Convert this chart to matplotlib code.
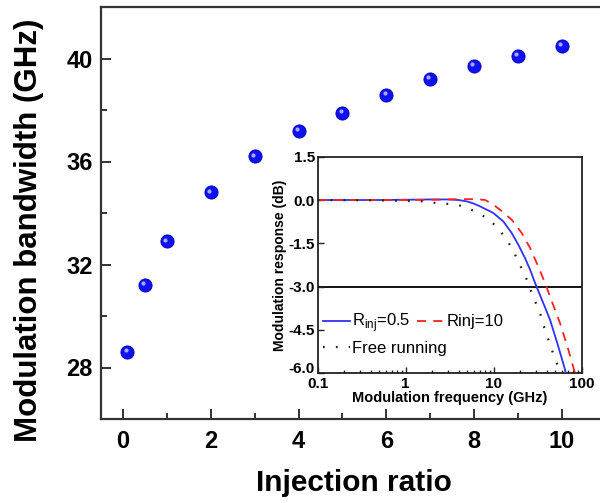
import matplotlib
matplotlib.use("Agg")
import matplotlib.pyplot as plt
import matplotlib.transforms as mtransforms
from matplotlib.ticker import FixedLocator, FixedFormatter, LogLocator, NullFormatter

plt.rcParams['font.family'] = ['Liberation Sans', 'DejaVu Sans']

# Main data
injection_ratio = [0.1, 0.5, 1, 2, 3, 4, 5, 6, 7, 8, 9, 10]
bandwidth_ghz = [28.6, 31.2, 32.9, 34.8, 36.2, 37.2, 37.9, 38.6, 39.2, 39.7, 40.1, 40.5]

# Inset data
f_r05 = [0.1, 0.5, 1.0, 2.0, 3.0, 4.0, 5.0, 5.9, 7.0, 9.9, 12.85, 16.0, 19.05, 22.7, 25.9, 29.5, 43.6, 54.2, 64.6, 66.0]
r_r05 = [0.0, 0.0, 0.01, 0.02, 0.02, 0.0, -0.05, -0.12, -0.22, -0.45, -0.74, -1.14, -1.55, -2.01, -2.41, -2.87, -4.14, -5.07, -5.87, -6.0]

f_r10 = [0.1, 0.5, 1.0, 2.0, 3.0, 4.0, 5.5, 7.0, 8.0, 10.0, 11.8, 16.0, 20.8, 25.9, 30.8, 38.3, 43.6, 56.7, 70.5, 76.9, 84.0]
r_r10 = [0.0, 0.0, 0.0, 0.01, 0.02, 0.03, 0.03, 0.02, 0.0, -0.17, -0.34, -0.68, -1.14, -1.66, -2.18, -2.87, -3.34, -4.26, -5.18, -5.59, -6.0]

f_free = [0.1, 0.5, 0.94, 1.66, 2.15, 2.92, 3.8, 5.14, 6.41, 8.69, 11.3, 14.1, 16.7, 19.05, 21.7, 24.7, 27.0, 30.3, 33.6, 36.6, 40.0, 44.5, 48.9, 54.2, 57.0]
r_free = [0.0, -0.01, -0.03, -0.05, -0.10, -0.13, -0.16, -0.28, -0.43, -0.65, -0.99, -1.37, -1.76, -2.13, -2.49, -2.87, -3.22, -3.59, -3.91, -4.32, -4.66, -5.07, -5.44, -5.78, -6.0]

W, H = 600, 503
fig = plt.figure(figsize=(W / 100, H / 100), dpi=100)

# main axes
x0, x1 = 101, 101 + 11.5 * 43.9
y0, y1 = 7, 419
aw, ah = x1 - x0, y1 - y0
ax = fig.add_axes([x0 / W, 1 - y1 / H, aw / W, ah / H])
ax.set_xlim(-0.5, 11)
ax.set_ylim(26, 42)
for s in ax.spines.values():
    s.set_linewidth(1.6)
    s.set_color('#333333')

ax.plot(injection_ratio, bandwidth_ghz, 'o', ms=9.5, color='#1010f0', mec='#0000c0', mew=0.6, zorder=3)
hl = mtransforms.offset_copy(ax.transData, fig=fig, x=-1.3, y=1.3, units='points')
ax.plot(injection_ratio, bandwidth_ghz, 'o', ms=3.0, color='#a8a8ff', mec='none', transform=hl, zorder=4)

ax.set_xticks([0, 2, 4, 6, 8, 10])
ax.set_xticks([1, 3, 5, 7, 9], minor=True)
ax.set_yticks([28, 32, 36, 40])
ax.set_yticks([30, 34, 38], minor=True)
ax.tick_params(which='both', direction='in', width=1.4, color='#333333')
ax.tick_params(which='major', length=7, labelsize=17)
ax.tick_params(axis='x', which='major', pad=8)
ax.tick_params(axis='y', which='major', pad=6)
ax.tick_params(which='minor', length=4.5)
for lab in ax.get_xticklabels() + ax.get_yticklabels():
    lab.set_fontweight('bold')
ax.set_xlabel('Injection ratio', fontsize=21.5, fontweight='bold')
ax.set_ylabel('Modulation bandwidth (GHz)', fontsize=22.5, fontweight='bold')
ax.xaxis.set_label_coords((354 - x0) / aw, (y1 - 469) / ah)
ax.yaxis.set_label_coords((44 - x0) / aw, (y1 - 230) / ah)

# inset axes
ix0, ix1 = 317.7, 581.7
iy0, iy1 = 156.7, 373.3
iw, ih = ix1 - ix0, iy1 - iy0
ia = fig.add_axes([ix0 / W, 1 - iy1 / H, iw / W, ih / H])
ia.set_facecolor('white')
ia.set_xscale('log')
ia.set_xlim(0.1, 100)
ia.set_ylim(-6, 1.5)
for s in ia.spines.values():
    s.set_linewidth(1.3)
    s.set_color('#222222')

ia.axhline(-3, color='black', lw=1.3, zorder=1)
l1, = ia.plot(f_r05, r_r05, '-', color='#3030ff', lw=1.3, label='R$_{\\mathregular{inj}}$=0.5', zorder=3)
l2, = ia.plot(f_r10, r_r10, '--', color='#ff2020', lw=1.3, dashes=(5, 4), label='Rinj=10', zorder=3)
l3, = ia.plot(f_free, r_free, ':', color='#222222', lw=1.6, dashes=(0.8, 5), label='Free running', zorder=3)

ia.xaxis.set_major_locator(FixedLocator([0.1, 1, 10, 100]))
ia.xaxis.set_major_formatter(FixedFormatter(['0.1', '1', '10', '100']))
ia.xaxis.set_minor_locator(LogLocator(base=10, subs=range(2, 10)))
ia.xaxis.set_minor_formatter(NullFormatter())
ia.set_yticks([1.5, 0.0, -1.5, -3.0, -4.5, -6.0])
ia.set_yticklabels(['1.5', '0.0', '-1.5', '-3.0', '-4.5', '-6.0'])
ia.tick_params(which='both', direction='in', color='#222222', width=1.0)
ia.tick_params(which='major', length=4, labelsize=11)
ia.tick_params(axis='x', which='major', pad=3)
ia.tick_params(axis='y', which='major', pad=2)
ia.tick_params(which='minor', length=2)
for lab in ia.get_xticklabels() + ia.get_yticklabels():
    lab.set_fontweight('bold')
ia.get_yticklabels()[-1].set_verticalalignment('baseline')
ia.set_xlabel('Modulation frequency (GHz)', fontsize=10.5, fontweight='bold', labelpad=0)
ia.set_ylabel('Modulation response (dB)', fontsize=10, fontweight='bold', labelpad=1)

leg1 = ia.legend(handles=[l1, l2], ncol=2, loc='center left',
                 bbox_to_anchor=((323 - ix0) / iw, (iy1 - 323) / ih),
                 frameon=False, fontsize=12, handlelength=1.6, handletextpad=0.15,
                 columnspacing=0.4, borderpad=0, borderaxespad=0)
ia.add_artist(leg1)
leg2 = ia.legend(handles=[l3], loc='center left',
                 bbox_to_anchor=((323 - ix0) / iw, (iy1 - 348) / ih),
                 frameon=False, fontsize=12, handlelength=1.6, handletextpad=0.15,
                 borderpad=0, borderaxespad=0)

fig.savefig('out.png', dpi=100)
